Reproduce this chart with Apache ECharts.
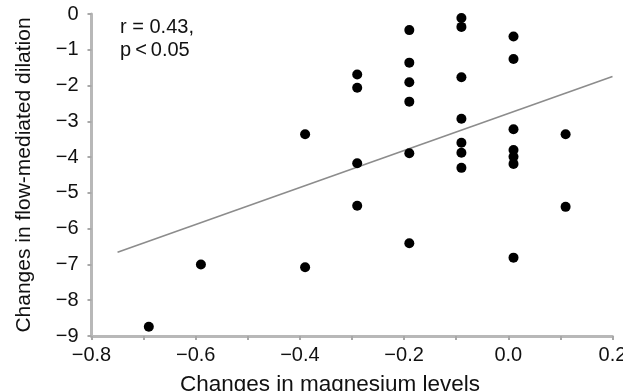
<!DOCTYPE html>
<html>
<head>
<meta charset="utf-8">
<script src="https://cdn.jsdelivr.net/npm/echarts@6/dist/echarts.min.js"></script>
<style>
html,body{margin:0;padding:0;background:#fff;}
#chart{width:623px;height:391px;}
</style>
</head>
<body>
<div id="chart"></div>
<script>
// Changes in magnesium levels (x) vs changes in flow-mediated dilation (y)
var magnesiumChange = [-0.69, -0.59, -0.39, -0.39, -0.29, -0.29, -0.29, -0.29,
  -0.19, -0.19, -0.19, -0.19, -0.19, -0.19,
  -0.09, -0.09, -0.09, -0.09, -0.09, -0.09, -0.09,
  0.01, 0.01, 0.01, 0.01, 0.01, 0.01, 0.01,
  0.11, 0.11];
var fmdChange = [-8.74, -7.00, -7.08, -3.36, -1.69, -2.06, -4.17, -5.36,
  -0.45, -1.36, -1.91, -2.45, -3.89, -6.41,
  -0.11, -0.36, -1.77, -2.93, -3.60, -3.88, -4.30,
  -0.63, -1.26, -3.22, -3.80, -3.99, -4.19, -6.81,
  -3.36, -5.39];
// regression line end points
var fitX = [-0.75, 0.20];
var fitY = [-6.66, -1.75];
var xTicks = {min: -0.8, max: 0.2, step: 0.2};
var yTicks = {min: -9, max: 0, step: 1};
var annotation = ['r = 0.43,', 'p\u2009<\u20090.05'];
var xTitle = 'Changes in magnesium levels';
var yTitle = 'Changes in flow-mediated dilation';

function fmt(v, d) {
  var s = Math.abs(v) < 1e-9 ? (0).toFixed(d) : v.toFixed(d);
  return s.replace('-', '\u2212');
}

var font = 'Liberation Sans, Arial, Helvetica, sans-serif';
var scatterData = magnesiumChange.map(function (x, i) { return [x, fmdChange[i]]; });
var fitData = fitX.map(function (x, i) { return [x, fitY[i]]; });

var chart = echarts.init(document.getElementById('chart'));
chart.setOption({
  animation: false,
  grid: {left: 91.5, right: 10.5, top: 14, bottom: 55, containLabel: false, outerBoundsMode: 'none'},
  xAxis: {
    type: 'value', min: xTicks.min, max: xTicks.max, interval: xTicks.step,
    name: xTitle, nameLocation: 'middle', nameGap: 37,
    nameTextStyle: {fontFamily: font, fontSize: 22.5, color: '#111', padding: [0, 44, 0, 0]},
    axisLine: {show: true, onZero: false, lineStyle: {color: '#b8b8b8', width: 3}},
    axisTick: {show: true, length: 4, lineStyle: {color: '#a8a8a8', width: 2}},
    minorTick: {show: true, splitNumber: 2, length: 4, lineStyle: {color: '#a8a8a8', width: 2}},
    splitLine: {show: false},
    axisLabel: {fontFamily: font, fontSize: 20, color: '#111', margin: 9,
      formatter: function (v) { return fmt(v, 1); }}
  },
  yAxis: {
    type: 'value', min: yTicks.min, max: yTicks.max, interval: yTicks.step,
    name: yTitle, nameLocation: 'middle', nameGap: 57, nameRotate: 90,
    nameTextStyle: {fontFamily: font, fontSize: 21, color: '#111'},
    axisLine: {show: true, onZero: false, lineStyle: {color: '#b8b8b8', width: 3}},
    axisTick: {show: true, length: 4, lineStyle: {color: '#a8a8a8', width: 2}},
    splitLine: {show: false},
    axisLabel: {fontFamily: font, fontSize: 20, color: '#111', margin: 13,
      formatter: function (v) { return fmt(v, 0); }}
  },
  graphic: [{
    type: 'text', left: 120, top: 16,
    style: {text: annotation.join('\n'), fontFamily: font, fontSize: 20, lineHeight: 23, fill: '#111'}
  }],
  series: [{
    type: 'line', data: fitData, symbol: 'none', silent: true,
    lineStyle: {color: '#8c8c8c', width: 1.6}, z: 1
  }, {
    type: 'scatter', data: scatterData, symbol: 'circle', symbolSize: 10,
    itemStyle: {color: '#000', opacity: 1}, z: 2
  }]
});
</script>
</body>
</html>
